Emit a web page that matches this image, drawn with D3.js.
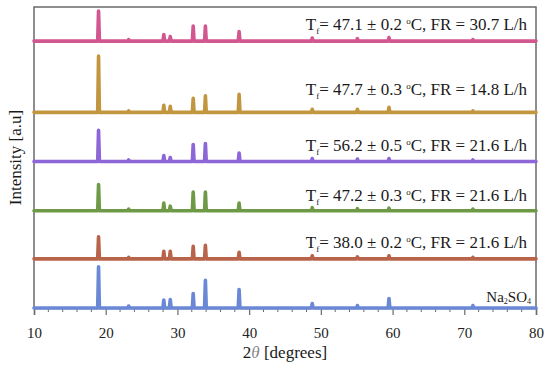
<!DOCTYPE html>
<html><head><meta charset="utf-8">
<script src="https://cdn.jsdelivr.net/npm/d3@7"></script>
<style>body{margin:0;background:#fff}svg{display:block}</style>
</head><body><svg id="c" width="550" height="366"></svg>
<script>
// ---- data ----
const peakPositions = [19.0, 23.2, 28.1, 29.0, 32.2, 33.9, 38.6, 48.8, 55.1, 59.5, 71.2];
const seriesNames = ["Na2SO4", "Tf38.0", "Tf47.2", "Tf56.2", "Tf47.7", "Tf47.1"];
const naHeights   = [41, 2, 8, 8.5, 14.5, 27.5, 18.5, 4.5, 2.5, 9.5, 2.5];
const t380Heights = [22, 1.5, 7.5, 7.5, 12.5, 13.5, 6.5, 3, 2, 3, 1.5];
const t472Heights = [26, 1.5, 7.5, 4.5, 18.5, 18.5, 7.5, 3, 2, 2.5, 1.5];
const t562Heights = [31, 1.5, 6, 4, 17, 18, 8.5, 3, 2.5, 3, 1.5];
const t477Heights = [56, 1.5, 7, 6, 14, 16.5, 18, 3, 3, 5, 1.5];
const t471Heights = [30, 1.5, 6.5, 4.5, 15, 15, 9.5, 3, 2.5, 3.5, 1.5];
const seriesOffsets = [0, 49, 97, 146, 195, 266];
const tfValues = [null, "38.0", "47.2", "56.2", "47.7", "47.1"];
const tfErrors = [null, "0.2", "0.3", "0.5", "0.3", "0.2"];
const frValues = [null, "21.6", "21.6", "21.6", "14.8", "30.7"];
const xTicks = [10, 20, 30, 40, 50, 60, 70, 80];
const xDomain = [10, 80];

// ---- styles / layout ----
const colors = ["#6b88d6", "#b8644a", "#6e9a48", "#8d66d8", "#c2963f", "#d2568f"];
const labelLift = [6, 11, 10, 11, 17, 11];
const heights = [naHeights, t380Heights, t472Heights, t562Heights, t477Heights, t471Heights];
const SERIF = '"Liberation Serif", "Times New Roman", serif';

const svg = d3.select("#c");
const L = 34, R = 536, T = 7, B = 308;
const x = d3.scaleLinear().domain(xDomain).range([L, R]);
const y = d3.scaleLinear().domain([0, 300]).range([B, T]);
const halfW = 0.12;

const frame = svg.append("g").attr("stroke", "#6a6a6a").attr("stroke-width", 1.5).attr("fill", "none");
frame.append("path").attr("d", `M${L},${B}V${T}H${R}V${B}`);

const ax = svg.append("g").attr("transform", `translate(0,${B})`)
  .call(d3.axisBottom(x).tickValues(xTicks).tickSize(7).tickFormat(d3.format("d")));
ax.select(".domain").attr("stroke", "#6a6a6a").attr("stroke-width", 1.5);
ax.selectAll(".tick line").attr("stroke", "#6a6a6a").attr("stroke-width", 1.2);
ax.selectAll(".tick text").style("font-family", SERIF).attr("font-size", 15).attr("fill", "#222").attr("dy", "1.3em");
const minor = d3.range(12, 80, 2).filter(v => v % 10 !== 0);
svg.append("g").selectAll("line").data(minor).join("line")
  .attr("x1", d => x(d)).attr("x2", d => x(d)).attr("y1", B).attr("y2", B + 4)
  .attr("stroke", "#6a6a6a").attr("stroke-width", 1);

const line = d3.line().x(d => x(d[0])).y(d => y(d[1]));
heights.forEach((hs, i) => {
  const off = seriesOffsets[i];
  const pts = [[xDomain[0], off]];
  peakPositions.forEach((p, j) => {
    pts.push([p - halfW, off], [p, off + hs[j]], [p + halfW, off]);
  });
  pts.push([xDomain[1], off]);
  svg.append("path").datum(pts).attr("d", line)
    .attr("fill", "none").attr("stroke", colors[i]).attr("stroke-width", 3.6)
    .attr("stroke-linejoin", "round").attr("stroke-linecap", "round");
});

heights.forEach((hs, i) => {
  const ty = y(seriesOffsets[i]) - labelLift[i];
  const t = svg.append("text").attr("x", i === 0 ? 531 : 527).attr("y", ty)
    .attr("text-anchor", "end").style("font-family", SERIF).attr("font-size", 17).attr("fill", "#1a1a1a");
  if (i === 0) {
    t.attr("font-size", 15);
    t.append("tspan").text("Na");
    t.append("tspan").attr("font-size", 8).attr("dy", 2).text("2");
    t.append("tspan").attr("dy", -2).text("SO");
    t.append("tspan").attr("font-size", 8).attr("dy", 2).text("4");
  } else {
    t.append("tspan").text("T");
    t.append("tspan").attr("font-size", 9).attr("dy", 4).text("f");
    t.append("tspan").attr("dy", -4).text(`= ${tfValues[i]} \u00b1 ${tfErrors[i]} `);
    t.append("tspan").attr("font-size", 9).attr("dy", -6).text("o");
    t.append("tspan").attr("dy", 6).text(`C, FR = ${frValues[i]} L/h`);
  }
});

const xt = svg.append("text").attr("x", (L + R) / 2).attr("y", 358).attr("text-anchor", "middle")
  .style("font-family", SERIF).attr("font-size", 17).attr("fill", "#1a1a1a");
xt.append("tspan").text("2");
xt.append("tspan").attr("font-style", "italic").attr("fill", "#888").text("\u03b8");
xt.append("tspan").text(" [degrees]");
svg.append("text").attr("transform", `translate(21,${(T + B) / 2}) rotate(-90)`)
  .attr("text-anchor", "middle").style("font-family", SERIF).attr("font-size", 17).attr("fill", "#1a1a1a")
  .text("Intensity [a.u]");
</script></body></html>
